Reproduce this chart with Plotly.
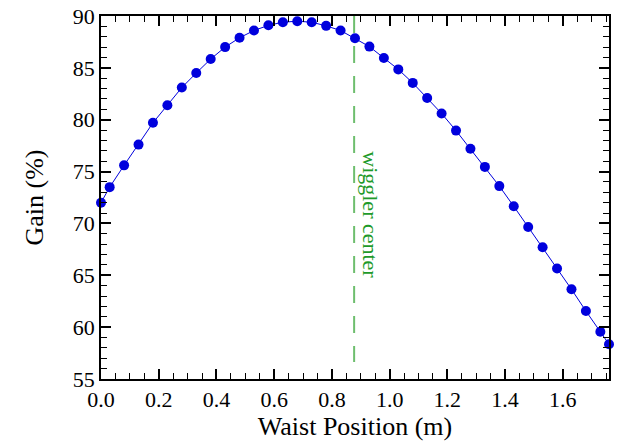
import plotly.graph_objects as go

waist_position = [0.00, 0.03, 0.08, 0.13, 0.18, 0.23, 0.28, 0.33, 0.38, 0.43,
                  0.48, 0.53, 0.58, 0.63, 0.68, 0.73, 0.78, 0.83, 0.88, 0.93,
                  0.98, 1.03, 1.08, 1.13, 1.18, 1.23, 1.28, 1.33, 1.38, 1.43,
                  1.48, 1.53, 1.58, 1.63, 1.68, 1.73, 1.76]
gain = [72.0, 73.5, 75.6, 77.6, 79.7, 81.4, 83.1, 84.5, 85.85, 87.0,
        87.9, 88.6, 89.1, 89.4, 89.5, 89.4, 89.05, 88.6, 87.85, 87.05,
        85.95, 84.85, 83.55, 82.1, 80.6, 78.95, 77.2, 75.45, 73.6, 71.65,
        69.65, 67.7, 65.65, 63.65, 61.55, 59.55, 58.35]

wiggler_center_x = 0.877
wiggler_line_y = [90.0, 56.65]
wiggler_label = "wiggler center"

font_family = "Liberation Serif, Times New Roman, serif"

fig = go.Figure()
fig.add_trace(go.Scatter(
    x=[wiggler_center_x, wiggler_center_x], y=wiggler_line_y, mode="lines",
    line=dict(color="rgb(110,190,110)", width=2, dash="17px,13px"),
    showlegend=False, hoverinfo="skip"))
fig.add_trace(go.Scatter(
    x=waist_position, y=gain, mode="lines+markers",
    line=dict(color="#0000dd", width=1),
    marker=dict(color="#0000dd", size=10),
    cliponaxis=False, showlegend=False))

fig.add_annotation(x=0.935, y=70.8, text=wiggler_label, textangle=90,
                   showarrow=False, font=dict(family=font_family, size=22, color="#1e9a2a"))

axis_common = dict(
    showline=True, linecolor="black", linewidth=1.5, mirror="ticks",
    ticks="inside", ticklen=10, tickwidth=1.5, tickcolor="black",
    showgrid=False, zeroline=False, automargin=False,
    tickfont=dict(family=font_family, size=22, color="black"),
)

fig.update_xaxes(range=[0, 1.76], dtick=0.2, tick0=0, tickformat=".1f",
                 minor=dict(dtick=0.05, ticks="inside", ticklen=6, tickwidth=1.2, tickcolor="black"),
                 title=dict(text="Waist Position (m)", font=dict(family=font_family, size=26, color="black"), standoff=5),
                 **axis_common)
fig.update_yaxes(range=[55, 90], dtick=5, tick0=55,
                 minor=dict(dtick=1, ticks="inside", ticklen=6, tickwidth=1.2, tickcolor="black"),
                 title=dict(text="Gain (%)", font=dict(family=font_family, size=26, color="black"), standoff=22),
                 **axis_common)

fig.update_layout(
    width=617, height=443,
    margin=dict(l=101, r=8, t=16, b=64),
    plot_bgcolor="white", paper_bgcolor="white",
    font=dict(family=font_family),
)

fig.write_html("out.html", config={"displayModeBar": False},
               post_script="document.body.style.margin='0';document.body.style.overflow='hidden';")
